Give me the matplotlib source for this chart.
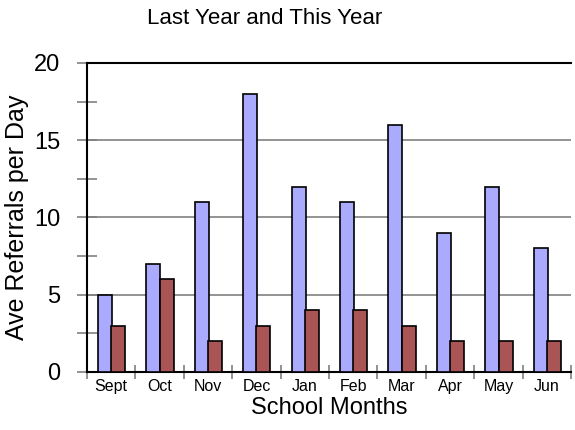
import matplotlib
matplotlib.use("Agg")
import matplotlib.pyplot as plt
import numpy as np
from matplotlib.ticker import MultipleLocator

months = ["Sept", "Oct", "Nov", "Dec", "Jan", "Feb", "Mar", "Apr", "May", "Jun"]
last_year = [5, 7, 11, 18, 12, 11, 16, 9, 12, 8]
this_year = [3, 6, 2, 3, 4, 4, 3, 2, 2, 2]

plt.rcParams["font.family"] = ["Liberation Sans", "DejaVu Sans"]

fig = plt.figure(figsize=(5.75, 4.3), dpi=100)
ax = fig.add_axes([0.1513, 0.1349, 0.842, 0.7186])

x = np.arange(len(months))
width = 0.29
ax.bar(x - 0.5 + 0.37, last_year, width, color="#aaaaff", edgecolor="black", linewidth=1.2, zorder=3)
ax.bar(x - 0.5 + 0.645, this_year, width, color="#aa5555", edgecolor="black", linewidth=1.2, zorder=3)

ax.set_xlim(-0.5, len(months) - 0.5)
ax.set_ylim(0, 20)

# month names centred, tick marks on category boundaries
ax.set_xticks(x)
ax.set_xticklabels(months, fontsize=11.5)
ax.tick_params(axis="x", which="major", length=0, pad=5)
ax.set_xticks(np.arange(len(months) + 1) - 0.5, minor=True)
ax.tick_params(axis="x", which="minor", direction="inout", length=10, color="gray", width=1.2)

ax.yaxis.set_major_locator(MultipleLocator(5))
ax.yaxis.set_minor_locator(MultipleLocator(2.5))
ax.tick_params(axis="y", which="both", direction="inout", length=14, color="gray", width=1.2,
               labelsize=17, pad=12)
ax.grid(axis="y", which="major", color="gray", linewidth=1.2, zorder=0)

ax.spines["right"].set_visible(False)
for side in ["left", "bottom", "top"]:
    ax.spines[side].set_linewidth(1.5)

ax.set_ylabel("Ave Referrals per Day", fontsize=18)
ax.yaxis.set_label_coords(-0.12, 0.5)
ax.set_xlabel("School Months", fontsize=17, labelpad=2)
fig.text(0.461, 0.958, "Last Year and This Year", ha="center", va="center", fontsize=16)

fig.savefig("out.png", dpi=100)
